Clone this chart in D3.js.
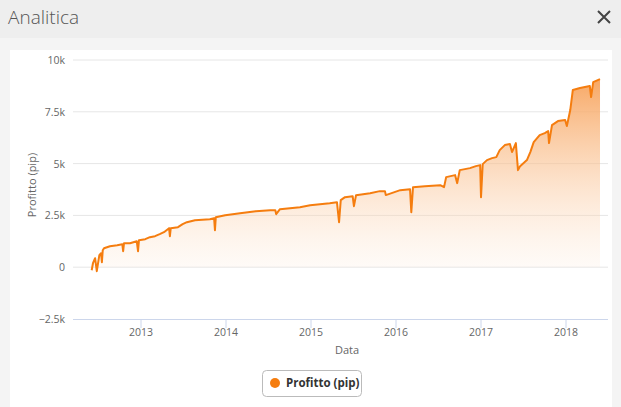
<!DOCTYPE html>
<html><head><meta charset="utf-8">
<script src="https://cdn.jsdelivr.net/npm/d3@7/dist/d3.min.js"></script>
<style>
body{margin:0;width:621px;height:407px;background:#f4f4f4;font-family:"Open Sans",sans-serif;overflow:hidden}
</style></head><body>
<svg id="c" width="621" height="407"></svg>
<script>
const years = [2012.42,2012.435,2012.46,2012.48,2012.51,2012.53,2012.54,2012.55,2012.565,2012.635,2012.72,2012.78,2012.79,2012.80,2012.87,2012.95,2012.965,2012.976,2013.05,2013.105,2013.165,2013.22,2013.27,2013.33,2013.34,2013.35,2013.435,2013.49,2013.54,2013.635,2013.81,2013.86,2013.87,2013.88,2013.99,2014.165,2014.35,2014.52,2014.58,2014.59,2014.635,2014.87,2014.99,2015.105,2015.22,2015.305,2015.33,2015.35,2015.40,2015.49,2015.505,2015.53,2015.695,2015.81,2015.87,2015.88,2016.05,2016.165,2016.18,2016.20,2016.34,2016.52,2016.565,2016.59,2016.695,2016.72,2016.75,2016.87,2016.94,2016.99,2017.0,2017.02,2017.07,2017.13,2017.18,2017.22,2017.28,2017.34,2017.365,2017.41,2017.435,2017.46,2017.54,2017.58,2017.62,2017.69,2017.75,2017.79,2017.80,2017.835,2017.905,2017.99,2018.01,2018.05,2018.08,2018.165,2018.28,2018.295,2018.32,2018.40];
const profit = [-145,193,435,-193,580,676,242,821,918,1014,1063,1111,773,1159,1159,1256,773,1304,1352,1449,1497,1594,1690,1884,1497,1884,1932,2077,2173,2270,2318,2367,1787,2415,2512,2608,2705,2753,2753,2560,2801,2898,2995,3043,3091,3140,2173,3236,3381,3429,2946,3478,3574,3671,3671,3480,3719,3767,2656,3864,3912,3961,3864,4347,4444,4057,4685,4782,4878,4927,3381,4975,5168,5265,5313,5651,5893,5941,5555,5989,4685,4878,5168,5555,6038,6376,6472,6569,5989,6859,7052,7100,6810,7583,8549,8646,8742,8211,8936,9080];
const yTicks = [-2500,0,2500,5000,7500,10000];
const yTickLabels = ["−2.5k","0","2.5k","5k","7.5k","10k"];
const xTicks = [2013,2014,2015,2016,2017,2018];

const svg = d3.select("#c");
svg.append("rect").attr("width",621).attr("height",38).attr("fill","#eeeeee");
svg.append("text").attr("x",8).attr("y",24).attr("font-size",19).attr("font-weight",300).attr("fill","#555").text("Analitica");
svg.append("path").attr("d","M598,11L610,23M610,11L598,23").attr("stroke","#444").attr("stroke-width",2);
svg.append("rect").attr("x",10).attr("y",50).attr("width",602).attr("height",357).attr("fill","#fff");

const x = d3.scaleLinear().domain([2012.2,2018.494]).range([73,608]);
const y = d3.scaleLinear().domain([-2500,10000]).range([319,60]);
const data = years.map((d,i)=>({t:d,v:profit[i]}));

const defs = svg.append("defs");
const g = defs.append("linearGradient").attr("id","gr").attr("x1",0).attr("y1",0).attr("x2",0).attr("y2",1);
g.append("stop").attr("offset","0%").attr("stop-color","#f7a35c").attr("stop-opacity",0.95);
g.append("stop").attr("offset","100%").attr("stop-color","#fde6d2").attr("stop-opacity",0.15);

svg.append("g").selectAll("line").data(yTicks.slice(1)).join("line")
 .attr("x1",73).attr("x2",608).attr("y1",d=>y(d)).attr("y2",d=>y(d)).attr("stroke","#e6e6e6");
svg.append("g").selectAll("text").data(yTicks).join("text")
 .attr("x",65).attr("y",d=>y(d)+4).attr("text-anchor","end").attr("font-size",10.5).attr("fill","#666")
 .text((d,i)=>yTickLabels[i]);
svg.append("line").attr("x1",73).attr("x2",608).attr("y1",319.5).attr("y2",319.5).attr("stroke","#ccd6eb");
svg.append("g").selectAll("line").data(xTicks).join("line")
 .attr("x1",d=>x(d)).attr("x2",d=>x(d)).attr("y1",319).attr("y2",328).attr("stroke","#ccd6eb");
svg.append("g").selectAll("text").data(xTicks).join("text")
 .attr("x",d=>x(d)).attr("y",336).attr("text-anchor","middle").attr("font-size",10.5).attr("fill","#666").text(d=>d);
svg.append("text").attr("x",347).attr("y",354).attr("text-anchor","middle").attr("font-size",11).attr("fill","#666").text("Data");
svg.append("text").attr("transform","translate(36,185) rotate(-90)").attr("text-anchor","middle").attr("font-size",11).attr("fill","#666").text("Profitto (pip)");

svg.append("path").datum(data).attr("fill","url(#gr)")
 .attr("d",d3.area().x(d=>x(d.t)).y0(y(0)).y1(d=>y(d.v)));
svg.append("path").datum(data).attr("fill","none").attr("stroke","#f57d0f").attr("stroke-width",2).attr("stroke-linejoin","round")
 .attr("d",d3.line().x(d=>x(d.t)).y(d=>y(d.v)));

svg.append("rect").attr("x",262.5).attr("y",370.5).attr("width",99).attr("height",26).attr("rx",4)
 .attr("fill","#fff").attr("stroke","#bbb");
svg.append("circle").attr("cx",275).attr("cy",383).attr("r",5).attr("fill","#f57d0f");
svg.append("text").attr("x",286).attr("y",387).attr("font-size",11.5).attr("font-weight",700).attr("fill","#333").text("Profitto (pip)");
</script></body></html>
